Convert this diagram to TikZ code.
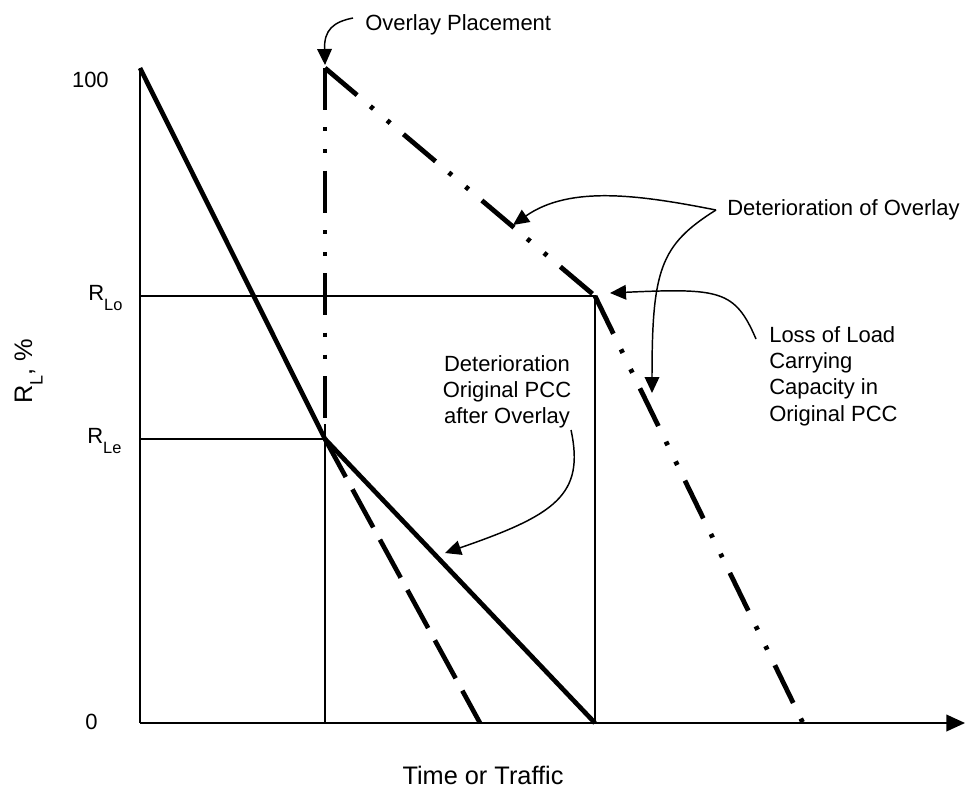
\documentclass[tikz,border=0pt]{standalone}
\usepackage{fontspec}
\setmainfont{Liberation Sans}
\usetikzlibrary{arrows.meta}
\newcommand\lbl{\fontsize{16.5}{19.7}\selectfont}
\newcommand\axlbl{\fontsize{19}{22}\selectfont}
\newcommand\Rsub[1]{R\raisebox{-7.5pt}{\fontsize{12.3}{12}\selectfont #1}}
\begin{document}
\begin{tikzpicture}[x=0.75pt,y=-0.75pt,
  thinline/.style={line width=1.3pt},
  thickline/.style={line width=3.5pt},
  dashdotdot/.style={line width=3.6pt,line cap=butt,
    dash pattern=on 31.5pt off 13pt on 3pt off 13.5pt on 3pt off 13pt},
  dashline/.style={line width=3.5pt,line cap=butt,dash pattern=on 32.5pt off 10.5pt},
  callout/.style={line width=1.1pt,-{Triangle[length=12pt,width=11pt]}},
  txt/.style={inner sep=0pt,font=\lbl},
]
\path[use as bounding box] (0,0) rectangle (966,789);

% key points
\coordinate (O) at (140,723);
\coordinate (Ytop) at (140,68);
\coordinate (Xend) at (965,723);
\coordinate (Lo0) at (140,296);
\coordinate (LoK) at (595,296);
\coordinate (LoB) at (595,723);
\coordinate (Le0) at (140,439);
\coordinate (LeK) at (325,439);
\coordinate (LeT) at (325,424);
\coordinate (LeB) at (325,723);
\coordinate (OvTop) at (325,68);
\coordinate (OvBot) at (325,421);
\coordinate (OvEnd) at (803,723);
\coordinate (DashEnd) at (480,723);

% axes
\draw[thinline] (Ytop) -- (O);
\draw[thinline,-{Triangle[length=14pt,width=12.5pt]}] (O) -- (Xend);

% reference lines
\draw[thinline] (Lo0) -- (LoK) -- (LoB);
\draw[thinline] (Le0) -- (LeK);
\draw[thinline] (LeT) -- (LeB);

% original PCC deterioration
\draw[thickline,line join=round] (Ytop) -- (LeK) -- (LoB);
\draw[dashline] (LeK) -- (DashEnd);

% overlay
\draw[dashdotdot] (OvTop) -- (OvBot);
\draw[dashdotdot] (OvTop) -- (LoK);
\draw[dashdotdot] (LoK) -- (OvEnd);

% tick labels
\node[txt,anchor=base east] (t100) at (109,87) {100};
\node[txt,anchor=base east] (t0) at (98,729) {0};
\node[txt,anchor=base west] (tLo) at (88,300) {\Rsub{Lo}};
\node[txt,anchor=base west] (tLe) at (87,443) {\Rsub{Le}};

% axis labels
\node[inner sep=0pt,font=\axlbl,anchor=base] (xlab) at (483,784) {Time or Traffic};
\node[inner sep=0pt,font=\axlbl,anchor=base,rotate=90] (ylab) at (32,371)
  {R\raisebox{-8pt}{\fontsize{13.5}{14}\selectfont L}, \%};

% annotations
\node[txt,anchor=base west] (ovp) at (365,30) {Overlay Placement};
\node[txt,anchor=base west] (dov) at (727,215) {Deterioration of Overlay};
\node[txt,anchor=north west,align=left] (loss) at (769,326)
  {Loss of Load\\Carrying\\Capacity in\\Original PCC};
\node[txt,anchor=north,align=center] (dpcc) at (507,355)
  {Deterioration\\Original PCC\\after Overlay};

\coordinate (aOv) at (353,18);
\coordinate (aOvTip) at (325,65);
\coordinate (aDov) at (716,210);
\coordinate (aDovTip1) at (513,225);
\coordinate (aDovTip2) at (652,393);
\coordinate (aLoss) at (756,339);
\coordinate (aLossTip) at (610,293);
\coordinate (aPcc) at (571,430);
\coordinate (aPccTip) at (445,553);

\draw[callout] (aOv) .. controls (333,22) and (324,30) .. (aOvTip);
\draw[callout] (aDov) .. controls (640,195) and (570,185) .. (aDovTip1);
\draw[callout] (aDov) .. controls (660,245) and (652,270) .. (aDovTip2);
\draw[callout] (aLoss) .. controls (735,290) and (720,288) .. (aLossTip);
\draw[callout] (aPcc) .. controls (585,495) and (555,515) .. (aPccTip);
\end{tikzpicture}
\end{document}
